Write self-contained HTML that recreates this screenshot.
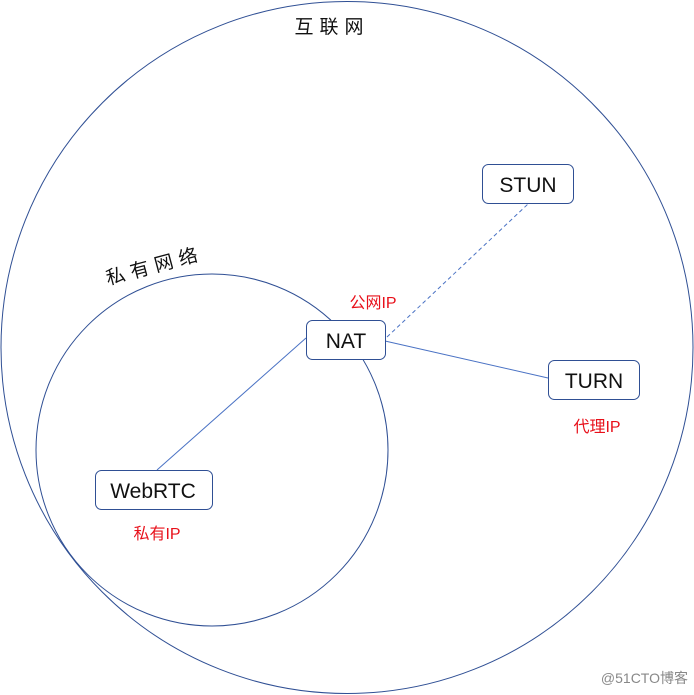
<!DOCTYPE html>
<html><head><meta charset="utf-8"><style>
html,body{margin:0;padding:0;background:#fff;}
svg{display:block;}
text{font-family:"Liberation Sans","Noto Sans CJK SC",sans-serif;}
</style></head><body>
<svg width="694" height="695" viewBox="0 0 694 695" xmlns="http://www.w3.org/2000/svg">
<circle cx="347" cy="347.5" r="346" fill="none" stroke="#2f4f94" stroke-width="1"/>
<circle cx="212" cy="450" r="176" fill="none" stroke="#2f4f94" stroke-width="1"/>
<line x1="157" y1="470" x2="306" y2="338" stroke="#4a72c4" stroke-width="1"/>
<line x1="387" y1="337" x2="528" y2="204" stroke="#4a72c4" stroke-width="1" stroke-dasharray="4,3"/>
<line x1="385" y1="341" x2="548" y2="378" stroke="#4a72c4" stroke-width="1"/>
<g fill="#fff" stroke="#2f4f94" stroke-width="1">
<rect x="482.5" y="164.5" width="91" height="39" rx="6"/>
<rect x="306.5" y="320.5" width="79" height="39" rx="6"/>
<rect x="548.5" y="360.5" width="91" height="39" rx="6"/>
<rect x="95.5" y="470.5" width="117" height="39" rx="6"/>
</g>
<g font-size="21" fill="#111" text-anchor="middle">
<text x="528" y="192">STUN</text>
<text x="346" y="348">NAT</text>
<text x="594" y="388">TURN</text>
<text x="153" y="498">WebRTC</text>
</g>
<text x="332" y="33" font-size="19" fill="#111" text-anchor="middle" letter-spacing="6">互联网</text>
<text x="0" y="0" font-size="19" fill="#111" letter-spacing="6" transform="translate(108,285) rotate(-15)">私有网络</text>
<g font-size="16" fill="#e8101a" text-anchor="middle">
<text x="373" y="308">公网IP</text>
<text x="597" y="432">代理IP</text>
<text x="157" y="539">私有IP</text>
</g>
<text x="688" y="683" font-size="14" fill="#888" text-anchor="end">@51CTO博客</text>
</svg>
</body></html>
